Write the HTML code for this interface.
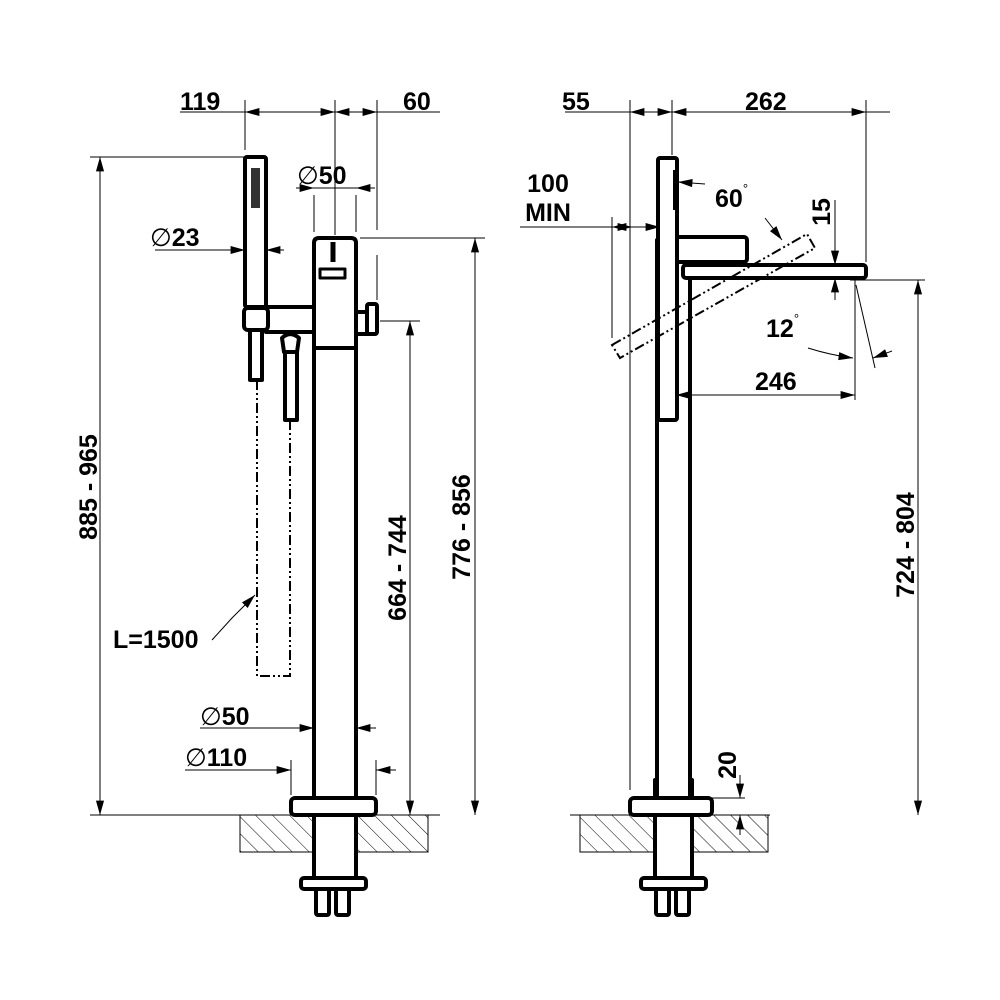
<!DOCTYPE html>
<html><head><meta charset="utf-8"><style>html,body{margin:0;padding:0;background:#fff}svg{display:block}text{font-family:"Liberation Sans",Arial,sans-serif;font-weight:bold;font-size:25px;fill:#000}</style></head>
<body>
<svg width="1000" height="1000" viewBox="0 0 1000 1000" xmlns="http://www.w3.org/2000/svg">
<defs>
<pattern id="h" width="12" height="12" patternUnits="userSpaceOnUse" patternTransform="rotate(-45)"><line x1="0" y1="0" x2="0" y2="12" stroke="#000" stroke-width="1"/></pattern>
<marker id="a" viewBox="0 0 16 10" refX="16" refY="5" markerWidth="16" markerHeight="9" orient="auto-start-reverse" markerUnits="userSpaceOnUse"><path d="M0,0.5 L16,5 L0,9.5 z" fill="#000"/></marker>
</defs>
<g fill="none" stroke="#000" stroke-width="1">
<rect x="240" y="815" width="188" height="37" fill="url(#h)"/>
<rect x="580" y="815" width="188" height="37" fill="url(#h)"/>
<line x1="90" y1="815" x2="440" y2="815"/>
<line x1="570" y1="815" x2="770" y2="815"/>
</g>
<!-- LEFT VIEW -->
<g fill="#fff" stroke="#000" stroke-width="4" stroke-linejoin="round">
<rect x="314" y="780" width="42" height="100"/>
<rect x="316" y="815" width="38" height="64" stroke="none"/>
<rect x="314" y="330" width="42" height="470"/>
<path d="M314,348 V243 q0,-5 5,-5 h32 q5,0 5,5 V348 z"/>
<rect x="320" y="269" width="25" height="9" stroke-width="3"/>
<line x1="333" y1="242" x2="333" y2="262" stroke-width="5"/>
<rect x="266" y="307" width="48" height="25"/>
<rect x="244" y="308" width="24" height="22" rx="4"/>
<rect x="245" y="157" width="21" height="150" rx="2"/>
<rect x="250" y="330" width="12" height="50"/>
<path d="M282,338 q8,-8 17,0 l-2,14 h-13 z"/>
<rect x="285" y="352" width="12" height="68"/>
<rect x="356" y="312" width="12" height="22"/>
<rect x="367" y="304" width="10" height="30" rx="2"/>
<rect x="291" y="798" width="85" height="17" rx="4"/>
<rect x="301" y="878" width="65" height="11" rx="3"/>
<rect x="316" y="889" width="13" height="26" rx="2"/>
<rect x="336" y="889" width="13" height="26" rx="2"/>
</g>
<rect x="251" y="168" width="9" height="40" fill="#333"/>
<g stroke="#000" stroke-width="2" stroke-dasharray="10,3,2,3,2,3" fill="none">
<path d="M257,380 V676 H290 V420"/>
</g>
<!-- RIGHT VIEW -->
<g fill="#fff" stroke="#000" stroke-width="4" stroke-linejoin="round">
<rect x="655" y="780" width="37" height="100"/>
<rect x="657" y="240" width="33" height="560"/>
<rect x="676" y="237" width="71" height="25" rx="3"/>
<rect x="683" y="265" width="183" height="13" rx="3"/>
<rect x="658" y="158" width="19" height="262" rx="2"/>
<rect x="630" y="798" width="82" height="17" rx="4"/>
<rect x="641" y="878" width="65" height="11" rx="3"/>
<rect x="656" y="889" width="13" height="26" rx="2"/>
<rect x="676" y="889" width="13" height="26" rx="2"/>
</g>
<rect x="673" y="170" width="4" height="40" fill="#000"/>
<polygon points="612,345 807,234 815,248 620,358" fill="none" stroke="#000" stroke-width="2" stroke-dasharray="10,3,2,3,2,3"/>
<g stroke="#000" stroke-width="1" fill="none">
<line x1="180" y1="112" x2="245" y2="112"/>
<line x1="245" y1="112" x2="335" y2="112" marker-start="url(#a)" marker-end="url(#a)"/>
<line x1="335" y1="112" x2="377" y2="112" marker-start="url(#a)" marker-end="url(#a)"/>
<line x1="377" y1="112" x2="440" y2="112"/>
<line x1="245" y1="100" x2="245" y2="150"/>
<line x1="335" y1="100" x2="335" y2="235"/>
<line x1="377" y1="100" x2="377" y2="230"/>
<line x1="377" y1="255" x2="377" y2="300"/>
<line x1="90" y1="157" x2="245" y2="157"/>
<line x1="100" y1="157" x2="100" y2="815" marker-start="url(#a)" marker-end="url(#a)"/>
<line x1="360" y1="238" x2="485" y2="238"/>
<line x1="475" y1="238" x2="475" y2="815" marker-start="url(#a)" marker-end="url(#a)"/>
<line x1="380" y1="321" x2="420" y2="321"/>
<line x1="410" y1="321" x2="410" y2="815" marker-start="url(#a)" marker-end="url(#a)"/>
<line x1="296" y1="188" x2="314" y2="188" marker-end="url(#a)"/>
<line x1="314" y1="188" x2="356" y2="188"/>
<line x1="375" y1="188" x2="356" y2="188" marker-end="url(#a)"/>
<line x1="314" y1="195" x2="314" y2="232"/><line x1="356" y1="195" x2="356" y2="232"/>
<line x1="155" y1="250" x2="245" y2="250" marker-end="url(#a)"/>
<line x1="284" y1="250" x2="266" y2="250" marker-end="url(#a)"/>
<line x1="200" y1="728" x2="314" y2="728" marker-end="url(#a)"/>
<line x1="376" y1="728" x2="356" y2="728" marker-end="url(#a)"/>
<line x1="185" y1="770" x2="291" y2="770" marker-end="url(#a)"/>
<line x1="396" y1="770" x2="376" y2="770" marker-end="url(#a)"/>
<line x1="291" y1="760" x2="291" y2="795"/><line x1="376" y1="760" x2="376" y2="795"/>
<polyline points="212,640 232,618 255,595" marker-end="url(#a)"/>
<line x1="565" y1="112" x2="630" y2="112"/>
<line x1="630" y1="112" x2="672" y2="112" marker-start="url(#a)" marker-end="url(#a)"/>
<line x1="672" y1="112" x2="866" y2="112" marker-start="url(#a)" marker-end="url(#a)"/>
<line x1="866" y1="112" x2="890" y2="112"/>
<line x1="630" y1="100" x2="630" y2="790"/>
<line x1="672" y1="100" x2="672" y2="155"/>
<line x1="866" y1="100" x2="866" y2="262"/>
<line x1="520" y1="227" x2="612" y2="227"/>
<line x1="612" y1="227" x2="632" y2="227" marker-start="url(#a)" marker-end="url(#a)"/>
<line x1="632" y1="227" x2="660" y2="227" marker-end="url(#a)"/>
<line x1="612" y1="217" x2="612" y2="338"/>
<line x1="705" y1="184" x2="678" y2="182" marker-end="url(#a)"/>
<line x1="765" y1="218" x2="782" y2="240" marker-end="url(#a)"/>
<line x1="835" y1="200" x2="835" y2="265" marker-end="url(#a)"/>
<line x1="835" y1="300" x2="835" y2="278" marker-end="url(#a)"/>
<line x1="855" y1="280" x2="855" y2="400"/>
<line x1="856" y1="285" x2="875" y2="368"/>
<path d="M808,348 Q830,355 853,358" marker-end="url(#a)"/>
<line x1="892" y1="351" x2="873" y2="358" marker-end="url(#a)"/>
<line x1="676" y1="395" x2="855" y2="395" marker-start="url(#a)" marker-end="url(#a)"/>
<line x1="850" y1="280" x2="925" y2="280"/>
<line x1="918" y1="280" x2="918" y2="815" marker-start="url(#a)" marker-end="url(#a)"/>
<line x1="712" y1="798" x2="745" y2="798"/>
<line x1="740" y1="775" x2="740" y2="798" marker-end="url(#a)"/>
<line x1="740" y1="835" x2="740" y2="815" marker-end="url(#a)"/>
</g>
<text x="180" y="110">119</text>
<text x="403" y="110">60</text>
<text x="297" y="184"><tspan font-weight="normal">∅</tspan>50</text>
<text x="150" y="246"><tspan font-weight="normal">∅</tspan>23</text>
<text x="200" y="725"><tspan font-weight="normal">∅</tspan>50</text>
<text x="185" y="766"><tspan font-weight="normal">∅</tspan>110</text>
<text x="113" y="648">L=1500</text>
<text transform="translate(97,487) rotate(-90)" text-anchor="middle">885 - 965</text>
<text transform="translate(470,527) rotate(-90)" text-anchor="middle">776 - 856</text>
<text transform="translate(406,568) rotate(-90)" text-anchor="middle">664 - 744</text>
<text x="562" y="110">55</text>
<text x="745" y="110">262</text>
<text x="548" y="192" text-anchor="middle">100</text>
<text x="548" y="221" text-anchor="middle">MIN</text>
<text x="715" y="207">60<tspan font-size="13" font-weight="normal" dy="-14">°</tspan></text>
<text x="766" y="337">12<tspan font-size="13" font-weight="normal" dy="-14">°</tspan></text>
<text transform="translate(830,212) rotate(-90)" text-anchor="middle">15</text>
<text x="755" y="390">246</text>
<text transform="translate(914,545) rotate(-90)" text-anchor="middle">724 - 804</text>
<text transform="translate(736,765) rotate(-90)" text-anchor="middle">20</text>
</svg>
</body></html>
